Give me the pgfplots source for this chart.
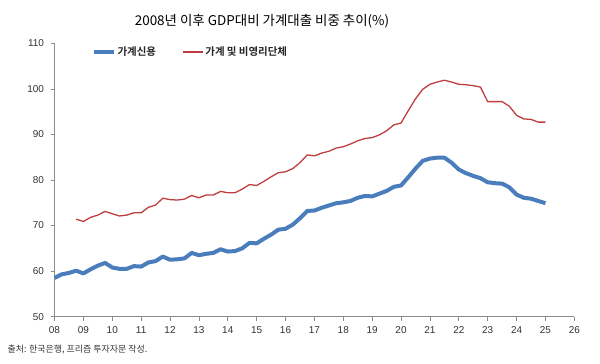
\documentclass[border=0pt]{standalone}
\usepackage{pgfplots}
\pgfplotsset{compat=1.18}
\usepackage{fontspec}
\setmainfont{Liberation Sans}
\newfontfamily\kr{Noto Sans CJK KR}
\newfontfamily\krb{Noto Sans CJK KR Bold}
\definecolor{blueline}{RGB}{74,125,187}
\definecolor{redline}{RGB}{190,62,64}
\definecolor{axisgray}{RGB}{140,140,140}
\definecolor{txtgray}{RGB}{50,50,50}
\begin{document}
\begin{tikzpicture}
\useasboundingbox (0,0) rectangle (600bp,364bp);
\node[font=\kr\fontsize{13.5}{16}\selectfont, text=black] at (262bp,343bp) {2008년 이후 GDP대비 가계대출 비중 추이(\%)};
\node[font=\kr\fontsize{9}{11}\selectfont, text=txtgray, anchor=west] at (4bp,14bp) {출처: 한국은행, 프리즘 투자자문 작성.};
\begin{axis}[
  at={(54.5bp,47.3bp)}, anchor=south west,
  scale only axis, width=519.8bp, height=273.4bp,
  xmin=8, xmax=26, ymin=50, ymax=110,
  axis x line*=bottom, axis y line*=left,
  axis line style={axisgray, line width=0.6bp},
  tick style={axisgray, line width=0.6bp},
  tick align=outside, major tick length=4bp,
  xtick={8,...,26},
  xticklabels={08,09,10,11,12,13,14,15,16,17,18,19,20,21,22,23,24,25,26},
  ytick={50,60,...,110},
  tick label style={font=\fontsize{10}{12}\selectfont, text=txtgray},
  xticklabel style={yshift=-2bp},
  yticklabel style={xshift=-3bp},
  /pgf/number format/assume math mode=true,
  legend style={at={(0.071,0.968)}, anchor=west, draw=none, fill=none,
    font=\krb\fontsize{10.5}{12}\selectfont, text=black!85,
    /tikz/every even column/.append style={column sep=24bp},
    inner sep=0pt},
  legend columns=2,
  legend cell align=left,
  legend image code/.code={\draw[#1] (0bp,0bp) -- (20bp,0bp);},
]
\addplot[blueline, line width=4bp, line join=round] table {
x y
8.00 58.5
8.25 59.3
8.50 59.6
8.75 60.1
9.00 59.5
9.25 60.4
9.50 61.2
9.75 61.8
10.00 60.8
10.25 60.5
10.50 60.5
10.75 61.1
11.00 61.0
11.25 61.9
11.50 62.2
11.75 63.2
12.00 62.5
12.25 62.6
12.50 62.8
12.75 64.0
13.00 63.5
13.25 63.8
13.50 64.0
13.75 64.8
14.00 64.3
14.25 64.4
14.50 65.0
14.75 66.2
15.00 66.1
15.25 67.1
15.50 68.0
15.75 69.1
16.00 69.3
16.25 70.2
16.50 71.6
16.75 73.2
17.00 73.3
17.25 73.9
17.50 74.4
17.75 74.9
18.00 75.1
18.25 75.4
18.50 76.1
18.75 76.5
19.00 76.4
19.25 77.0
19.50 77.6
19.75 78.5
20.00 78.8
20.25 80.6
20.50 82.5
20.75 84.2
21.00 84.7
21.25 84.9
21.50 84.9
21.75 83.8
22.00 82.3
22.25 81.5
22.50 80.9
22.75 80.4
23.00 79.5
23.25 79.3
23.50 79.2
23.75 78.4
24.00 76.8
24.25 76.1
24.50 75.9
24.75 75.4
25.00 74.9
};
\addlegendentry{가계신용}
\addplot[redline, line width=1.3bp, line join=round] table {
x y
8.75 71.4
9.00 70.9
9.25 71.8
9.50 72.3
9.75 73.1
10.00 72.6
10.25 72.1
10.50 72.3
10.75 72.8
11.00 72.8
11.25 74.0
11.50 74.5
11.75 76.0
12.00 75.7
12.25 75.6
12.50 75.8
12.75 76.6
13.00 76.1
13.25 76.7
13.50 76.7
13.75 77.5
14.00 77.2
14.25 77.2
14.50 78.0
14.75 79.0
15.00 78.8
15.25 79.7
15.50 80.7
15.75 81.6
16.00 81.8
16.25 82.5
16.50 83.8
16.75 85.5
17.00 85.3
17.25 85.9
17.50 86.3
17.75 87.0
18.00 87.3
18.25 87.9
18.50 88.6
18.75 89.1
19.00 89.3
19.25 89.9
19.50 90.8
19.75 92.1
20.00 92.5
20.25 95.2
20.50 97.8
20.75 99.9
21.00 101.0
21.25 101.5
21.50 101.9
21.75 101.5
22.00 101.0
22.25 100.9
22.50 100.7
22.75 100.4
23.00 97.2
23.25 97.2
23.50 97.2
23.75 96.2
24.00 94.2
24.25 93.4
24.50 93.3
24.75 92.7
25.00 92.7
};
\addlegendentry{가계 및 비영리단체}
\end{axis}
\end{tikzpicture}
\end{document}
